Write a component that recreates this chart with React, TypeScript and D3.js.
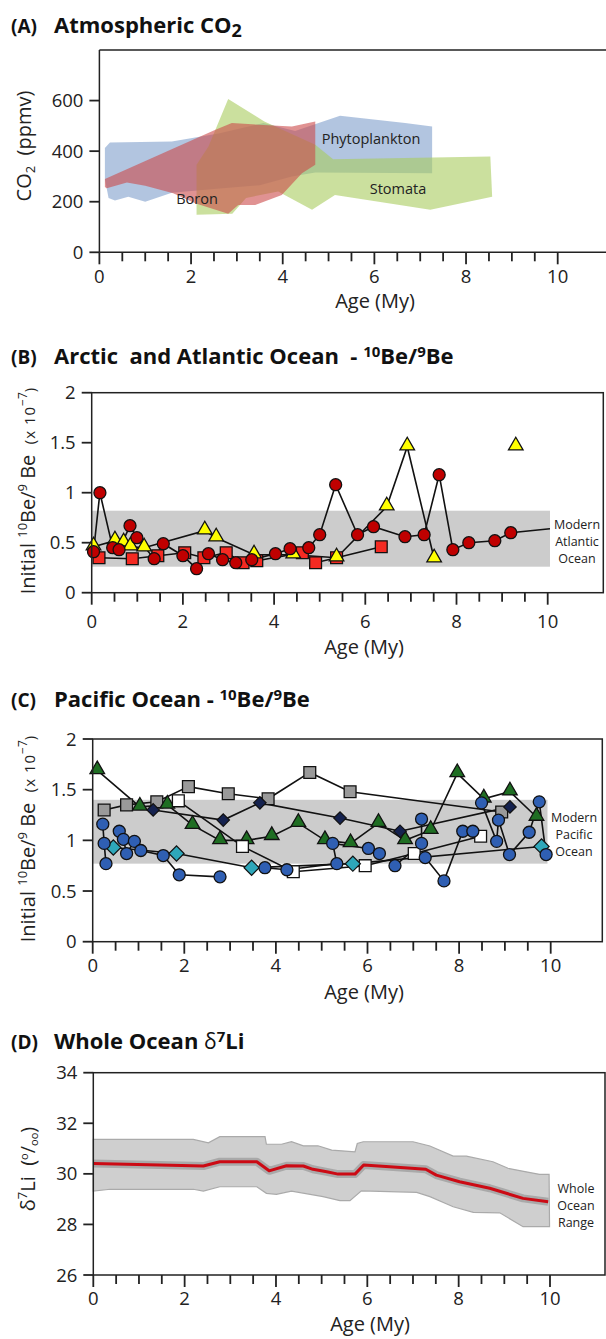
import React from "react";
import * as d3 from "d3";

const FONT = "'Open Sans', 'Noto Sans', sans-serif";
const INK = "#222";

// ---------- shared ----------
const ageTicks = [0, 2, 4, 6, 8, 10];
const ageMinor = d3.range(0, 10.001, 0.5);

// ---------- Panel A: atmospheric CO2 envelopes (age My, ppmv) ----------
const co2Ticks = [0, 200, 400, 600];
const phytoplanktonPoly: [number, number][] = [
  [0.12, 412], [0.23, 434], [1.58, 438], [2.6, 470], [3.58, 511], [4.27, 480], [5.25, 540],
  [6.67, 511], [7.26, 497], [7.26, 313], [4.71, 316], [4.2, 300], [3.5, 265], [2.5, 250],
  [1.58, 235], [1.0, 200], [0.63, 220], [0.34, 205], [0.2, 215], [0.12, 290],
];
const stomataPoly: [number, number][] = [
  [2.12, 148], [2.12, 346], [2.38, 418], [2.81, 606], [3.6, 517], [4.71, 425], [5.1, 368],
  [8.53, 379], [8.57, 220], [7.22, 168], [5.14, 227], [4.64, 168], [3.9, 240], [3.2, 215],
  [2.9, 152],
];
const boronPoly: [number, number][] = [
  [0.12, 290], [2.52, 484], [2.89, 511], [4.2, 497], [4.71, 517], [4.71, 346], [4.42, 313],
  [3.98, 227], [3.4, 187], [3.03, 187], [2.81, 152], [2.09, 194], [1.61, 234], [1.0, 263],
  [0.6, 276], [0.16, 253], [0.12, 258],
];

// ---------- Panel B: Arctic & Atlantic 10Be/9Be ----------
const beTicks = [0, 0.5, 1, 1.5, 2];
const atlanticModernRange = [0.26, 0.82];
const atlanticRangeEnd = 10.05;
const bCircles: [number, number][] = [
  [0.04, 0.41], [0.18, 1.0], [0.46, 0.45], [0.6, 0.43], [0.84, 0.67], [0.99, 0.55], [1.37, 0.34],
  [1.57, 0.49], [2.0, 0.37], [2.3, 0.24], [2.56, 0.39], [2.87, 0.33], [3.16, 0.3], [3.51, 0.33],
  [4.03, 0.39], [4.35, 0.44], [4.76, 0.45], [5.0, 0.58], [5.35, 1.08], [5.83, 0.58], [6.18, 0.66],
  [6.87, 0.56], [7.29, 0.58], [7.62, 1.18], [7.92, 0.43], [8.27, 0.5], [8.84, 0.52], [9.19, 0.6],
];
const bCircleLineEnd: [number, number] = [10.05, 0.64];
const bTriangles: [number, number][] = [
  [0.04, 0.46], [0.51, 0.52], [0.7, 0.5], [0.85, 0.46], [1.15, 0.45], [2.48, 0.62], [2.73, 0.55],
  [3.56, 0.38], [4.42, 0.38], [5.37, 0.35], [6.47, 0.86], [6.92, 1.46], [7.51, 0.34],
];
const bTriangleIsolated: [number, number][] = [[9.3, 1.46]];
const bSquares: [number, number][] = [
  [0.16, 0.35], [0.89, 0.34], [1.45, 0.37], [2.04, 0.4], [2.46, 0.35], [2.95, 0.4], [3.32, 0.3],
  [3.62, 0.32], [4.62, 0.4], [4.91, 0.3], [5.37, 0.35], [6.35, 0.46],
];

// ---------- Panel C: Pacific 10Be/9Be ----------
const pacificModernRange = [0.77, 1.4];
const pacificRangeEnd = 9.93;
const cGraySquares: [number, number][] = [
  [0.25, 1.3], [0.74, 1.35], [1.4, 1.38], [2.09, 1.53], [2.96, 1.46], [3.83, 1.41], [4.74, 1.67],
  [5.62, 1.48], [8.93, 1.28],
];
const cGreenTriangles: [number, number][] = [
  [0.1, 1.69], [1.03, 1.33], [1.63, 1.35], [2.18, 1.15], [2.78, 1.0], [3.36, 1.0], [3.91, 1.04],
  [4.49, 1.17], [5.07, 1.0], [5.63, 0.97], [6.24, 1.17], [6.82, 1.0], [7.38, 1.1], [7.96, 1.66],
  [8.54, 1.41], [9.11, 1.48], [9.69, 1.23],
];
const cNavyDiamonds: [number, number][] = [
  [1.32, 1.3], [2.85, 1.2], [3.65, 1.37], [5.4, 1.22], [6.71, 1.09], [9.11, 1.33],
];
const cCyanDiamonds: [number, number][] = [
  [0.45, 0.93], [1.83, 0.87], [3.47, 0.73], [5.68, 0.77], [9.8, 0.94],
];
const cWhiteSquares: [number, number][] = [
  [1.87, 1.39], [3.27, 0.94], [4.38, 0.69], [5.95, 0.75], [7.02, 0.87], [8.47, 1.04],
];
const cCircleSeries: [number, number][][] = [
  [[0.22, 1.16], [0.25, 0.97], [0.29, 0.77]],
  [[0.58, 1.09], [0.67, 1.01], [0.74, 0.87], [0.91, 0.99], [1.05, 0.9], [1.54, 0.85], [1.89, 0.66], [2.78, 0.64]],
  [[3.76, 0.73], [4.24, 0.71], [5.33, 0.77], [5.24, 0.97], [6.02, 0.92], [6.26, 0.87]],
  [[6.6, 0.75], [7.18, 0.97], [7.18, 1.21]],
  [[7.26, 0.83], [7.67, 0.6], [8.08, 1.09], [8.3, 1.09]],
  [[8.49, 1.37], [8.82, 0.99], [8.86, 1.2], [9.1, 0.86], [9.53, 1.08], [9.75, 1.38], [9.9, 0.86]],
];

// ---------- Panel D: whole-ocean d7Li ----------
const liTicks = [26, 28, 30, 32, 34];
const liAge = [0, 2.41, 2.77, 3.58, 3.85, 4.23, 4.6, 4.81, 5.11, 5.36, 5.73, 5.92, 6.49, 7.28, 7.51, 8.02, 8.68, 9.41, 9.96];
const liValue = [30.41, 30.31, 30.48, 30.48, 30.12, 30.32, 30.31, 30.18, 30.08, 29.99, 29.99, 30.35, 30.28, 30.18, 29.95, 29.69, 29.43, 29.03, 28.9];
const liRangeTop: [number, number][] = [
  [0, 31.36], [2.19, 31.36], [2.52, 31.23], [2.77, 31.47], [3.76, 31.47], [3.79, 31.17], [4.12, 31.17],
  [4.34, 31.27], [4.6, 31.11], [4.92, 31.11], [5.22, 30.94], [5.73, 30.87], [5.78, 31.2], [5.91, 31.27],
  [7.0, 31.27], [7.37, 31.1], [7.88, 30.7], [8.17, 30.7], [8.75, 30.48], [9.08, 30.22], [9.48, 30.08],
  [9.77, 29.98], [9.98, 29.98],
];
const liRangeBottom: [number, number][] = [
  [0, 29.32], [0.37, 29.39], [2.19, 29.39], [2.41, 29.32], [2.77, 29.49], [3.58, 29.49], [3.79, 29.23],
  [4.01, 29.19], [4.34, 29.32], [5.03, 29.1], [5.4, 28.94], [5.62, 28.94], [5.87, 29.33], [7.08, 29.27],
  [7.37, 29.1], [7.88, 28.7], [8.32, 28.48], [8.9, 28.46], [9.41, 27.91], [9.99, 27.91],
];

// ---------- helpers ----------
type Sc = d3.ScaleLinear<number, number>;

function Frame({ x, top, bottom, right, open }: { x: Sc; top: number; bottom: number; right: number; open?: boolean }) {
  const l = x(0);
  if (open) {
    return (
      <g stroke={INK} strokeWidth={1.5} fill="none">
        <line x1={l} x2={right} y1={top} y2={top} />
        <line x1={l} x2={l} y1={top} y2={bottom} />
        <line x1={l} x2={right} y1={bottom} y2={bottom} />
      </g>
    );
  }
  return <rect x={l} y={top} width={right - l} height={bottom - top} fill="none" stroke={INK} strokeWidth={1.5} />;
}

function XAxis({ x, y0, labelY, titleX, titleY }: { x: Sc; y0: number; labelY: number; titleX: number; titleY: number }) {
  return (
    <g>
      {ageMinor.map((v) => {
        const major = Math.abs(v % 2) < 1e-6;
        return <line key={v} x1={x(v)} x2={x(v)} y1={y0} y2={y0 + (major ? 12 : 9)} stroke={INK} strokeWidth={1.8} />;
      })}
      {ageTicks.map((v) => (
        <text key={v} x={x(v)} y={labelY} textAnchor="middle" fontSize={18.5} fill={INK}>{v}</text>
      ))}
      <text x={titleX} y={titleY} textAnchor="middle" fontSize={20} fill={INK}>Age (My)</text>
    </g>
  );
}

function YAxis({ x, y, ticks }: { x: Sc; y: Sc; ticks: number[] }) {
  const l = x(0);
  return (
    <g>
      {ticks.map((v) => (
        <g key={v}>
          <line x1={l - 10} x2={l} y1={y(v)} y2={y(v)} stroke={INK} strokeWidth={1.8} />
          <text x={l - 16} y={y(v) + 6.5} textAnchor="end" fontSize={18.5} fill={INK}>{v}</text>
        </g>
      ))}
    </g>
  );
}

const triPath = d3.symbol().type(d3.symbolTriangle).size(92)() as string;
const sqPath = d3.symbol().type(d3.symbolSquare).size(140)() as string;
const diaBig = d3.symbol().type(d3.symbolSquare).size(115)() as string;
const diaSmall = d3.symbol().type(d3.symbolSquare).size(78)() as string;

function Markers({ pts, x, y, kind, fill }: { pts: [number, number][]; x: Sc; y: Sc; kind: string; fill: string }) {
  return (
    <g>
      {pts.map(([a, v], i) => {
        const cx = x(a), cy = y(v);
        if (kind === "circle") return <circle key={i} cx={cx} cy={cy} r={6} fill={fill} stroke="#111" strokeWidth={1.3} />;
        if (kind === "tri") return <path key={i} d={triPath} transform={`translate(${cx},${cy - 1})`} fill={fill} stroke="#111" strokeWidth={1.3} />;
        if (kind === "sq") return <path key={i} d={sqPath} transform={`translate(${cx},${cy})`} fill={fill} stroke="#111" strokeWidth={1.3} />;
        if (kind === "dia") return <path key={i} d={diaBig} transform={`translate(${cx},${cy}) rotate(45)`} fill={fill} stroke="#111" strokeWidth={1.2} />;
        return <path key={i} d={diaSmall} transform={`translate(${cx},${cy}) rotate(45)`} fill={fill} stroke="#111" strokeWidth={1.2} />;
      })}
    </g>
  );
}

function SeriesLine({ pts, x, y }: { pts: [number, number][]; x: Sc; y: Sc }) {
  const line = d3.line<[number, number]>().x((d) => x(d[0])).y((d) => y(d[1]));
  return <path d={line(pts) || ""} fill="none" stroke="#111" strokeWidth={1.6} />;
}

function Title({ label, y, children }: { label: string; y: number; children: React.ReactNode }) {
  return (
    <g fontWeight="bold" fill="#111">
      <text x={11} y={y} fontSize={19}>{label}</text>
      <text x={54} y={y} fontSize={22}>{children}</text>
    </g>
  );
}

function Stack({ x, y, lines }: { x: number; y: number; lines: string[] }) {
  return (
    <g fontSize={12.5} fill="#222" textAnchor="middle">
      {lines.map((t, i) => (
        <text key={i} x={x} y={y + i * 17}>{t}</text>
      ))}
    </g>
  );
}

export default function App() {
  // Panel A
  const xA = d3.scaleLinear().domain([0, 10]).range([99.4, 557.7]);
  const yA = d3.scaleLinear().domain([0, 800]).range([252.3, 50]);
  const poly = (p: [number, number][]) => "M" + p.map(([a, v]) => `${xA(a)},${yA(v)}`).join("L") + "Z";

  // Panel B
  const xB = d3.scaleLinear().domain([0, 10]).range([91.7, 547.7]);
  const yB = d3.scaleLinear().domain([0, 2]).range([592.7, 392.7]);

  // Panel C
  const xC = d3.scaleLinear().domain([0, 10]).range([92.7, 550.7]);
  const yC = d3.scaleLinear().domain([0, 2]).range([941.7, 739]);

  // Panel D
  const xD = d3.scaleLinear().domain([0, 10]).range([93.3, 550]);
  const yD = d3.scaleLinear().domain([26, 34]).range([1275, 1072.7]);
  const liPts: [number, number][] = liAge.map((a, i) => [a, liValue[i]]);
  const liLine = d3.line<[number, number]>().x((d) => xD(d[0])).y((d) => yD(d[1]));
  const bandPath =
    liLine(liRangeTop)! + "L" + liRangeBottom.slice().reverse().map(([a, v]) => `${xD(a)},${yD(v)}`).join("L") + "Z";

  const beLabel = (cx: number, cy: number) => (
    <text transform={`translate(${cx},${cy}) rotate(-90)`} textAnchor="middle" fontSize={20} fill={INK}>
      {"Initial "}<tspan fontSize={13} dy={-8}>10</tspan><tspan dy={8}>Be/</tspan><tspan fontSize={13} dy={-8}>9</tspan><tspan dy={8}>{"\u00a0Be\u00a0 "}</tspan>
      <tspan fontSize={15} letterSpacing={1}>(x 10</tspan><tspan fontSize={12} dy={-8}>−7</tspan><tspan fontSize={15} dy={8}>)</tspan>
    </text>
  );

  return (
    <svg width={606} height={1339} style={{ display: "block", position: "absolute", left: 0, top: 0 }} fontFamily={FONT}>
      <rect width={606} height={1339} fill="#fff" />

      {/* ================= A ================= */}
      <Title label="(A)" y={33}>
        Atmospheric CO<tspan fontSize={18} dy={4}>2</tspan>
      </Title>
      <g>
        <path d={poly(phytoplanktonPoly)} fill="#7f9fcc" fillOpacity={0.6} />
        <path d={poly(stomataPoly)} fill="#a9cc5e" fillOpacity={0.6} />
        <path d={poly(boronPoly)} fill="#cc4a4a" fillOpacity={0.6} />
        <text x={371} y={144} textAnchor="middle" fontSize={14.5} fill="#222">Phytoplankton</text>
        <text x={398} y={194} textAnchor="middle" fontSize={14.5} fill="#222">Stomata</text>
        <text x={197} y={204} textAnchor="middle" fontSize={14.5} fill="#222">Boron</text>
      </g>
      <Frame x={xA} top={50} bottom={252.3} right={606} open />
      <YAxis x={xA} y={yA} ticks={co2Ticks} />
      <XAxis x={xA} y0={252.3} labelY={283} titleX={375} titleY={308} />
      <text transform="translate(31,146) rotate(-90)" textAnchor="middle" fontSize={20} fill={INK}>
        CO<tspan fontSize={13} dy={4}>2</tspan><tspan dy={-4}>{"\u00a0 (ppmv)"}</tspan>
      </text>

      {/* ================= B ================= */}
      <Title label="(B)" y={364}>
        {"Arctic \u00a0and Atlantic Ocean \u00a0- "}<tspan fontSize={15} dy={-7}>10</tspan><tspan dy={7}>Be/</tspan><tspan fontSize={15} dy={-7}>9</tspan><tspan dy={7}>Be</tspan>
      </Title>
      <rect x={xB(0)} y={yB(atlanticModernRange[1])} width={xB(atlanticRangeEnd) - xB(0)} height={yB(atlanticModernRange[0]) - yB(atlanticModernRange[1])} fill="#cccccc" />
      <Stack x={577} y={529} lines={["Modern", "Atlantic", "Ocean"]} />
      <SeriesLine pts={bSquares} x={xB} y={yB} />
      <SeriesLine pts={bTriangles} x={xB} y={yB} />
      <SeriesLine pts={[...bCircles, bCircleLineEnd]} x={xB} y={yB} />
      <Markers pts={bSquares} x={xB} y={yB} kind="sq" fill="#f42a22" />
      <Markers pts={[...bTriangles, ...bTriangleIsolated]} x={xB} y={yB} kind="tri" fill="#ffff00" />
      <Markers pts={bCircles} x={xB} y={yB} kind="circle" fill="#c00000" />
      <Frame x={xB} top={392.7} bottom={592.7} right={603.3} />
      <YAxis x={xB} y={yB} ticks={beTicks} />
      <XAxis x={xB} y0={592.7} labelY={628} titleX={364} titleY={654} />
      {beLabel(35, 491)}

      {/* ================= C ================= */}
      <Title label="(C)" y={707}>
        {"Pacific Ocean - "}<tspan fontSize={15} dy={-7}>10</tspan><tspan dy={7}>Be/</tspan><tspan fontSize={15} dy={-7}>9</tspan><tspan dy={7}>Be</tspan>
      </Title>
      <rect x={xC(0)} y={yC(pacificModernRange[1])} width={xC(pacificRangeEnd) - xC(0)} height={yC(pacificModernRange[0]) - yC(pacificModernRange[1])} fill="#cccccc" />
      <Stack x={574} y={822} lines={["Modern", "Pacific", "Ocean"]} />
      <SeriesLine pts={cGraySquares} x={xC} y={yC} />
      <SeriesLine pts={cGreenTriangles} x={xC} y={yC} />
      <SeriesLine pts={cNavyDiamonds} x={xC} y={yC} />
      <SeriesLine pts={cCyanDiamonds} x={xC} y={yC} />
      <SeriesLine pts={cWhiteSquares} x={xC} y={yC} />
      {cCircleSeries.map((s, i) => <SeriesLine key={i} pts={s} x={xC} y={yC} />)}
      <Markers pts={cGraySquares} x={xC} y={yC} kind="sq" fill="#9a9a9a" />
      <Markers pts={cGreenTriangles} x={xC} y={yC} kind="tri" fill="#1f6e23" />
      <Markers pts={cNavyDiamonds} x={xC} y={yC} kind="diaSmall" fill="#15224f" />
      <Markers pts={cWhiteSquares} x={xC} y={yC} kind="sq" fill="#ffffff" />
      <Markers pts={cCyanDiamonds} x={xC} y={yC} kind="dia" fill="#2ea7ba" />
      {cCircleSeries.map((s, i) => <Markers key={i} pts={s} x={xC} y={yC} kind="circle" fill="#2f5fb3" />)}
      <Frame x={xC} top={739} bottom={941.7} right={602.3} />
      <YAxis x={xC} y={yC} ticks={beTicks} />
      <XAxis x={xC} y0={941.7} labelY={972} titleX={364} titleY={999} />
      {beLabel(35, 839)}

      {/* ================= D ================= */}
      <Title label="(D)" y={1049}>
        {"Whole Ocean "}<tspan fontWeight="normal" fontSize={21}>δ</tspan><tspan fontSize={15} dy={-7}>7</tspan><tspan dy={7}>Li</tspan>
      </Title>
      <path d={bandPath} fill="#cfcfcf" stroke="#aaaaaa" strokeWidth={1.2} />
      <path d={liLine(liPts)!} fill="none" stroke="#a9a9a9" strokeWidth={8} strokeLinejoin="round" />
      <path d={liLine(liPts)!} fill="none" stroke="#cc0a14" strokeWidth={3} strokeLinejoin="round" />
      <Stack x={576} y={1193} lines={["Whole", "Ocean", "Range"]} />
      <Frame x={xD} top={1072.7} bottom={1275} right={605} />
      <YAxis x={xD} y={yD} ticks={liTicks} />
      <XAxis x={xD} y0={1275} labelY={1305} titleX={370} titleY={1331} />
      <text transform="translate(35,1169) rotate(-90)" textAnchor="middle" fontSize={20} fill={INK}>
        δ<tspan fontSize={13} dy={-8}>7</tspan><tspan dy={8}>{"Li\u00a0 ("}</tspan><tspan fontSize={11} dy={-7}>o</tspan><tspan dy={7}>/</tspan><tspan fontSize={11} dy={3}>oo</tspan><tspan dy={-3}>)</tspan>
      </text>
    </svg>
  );
}
